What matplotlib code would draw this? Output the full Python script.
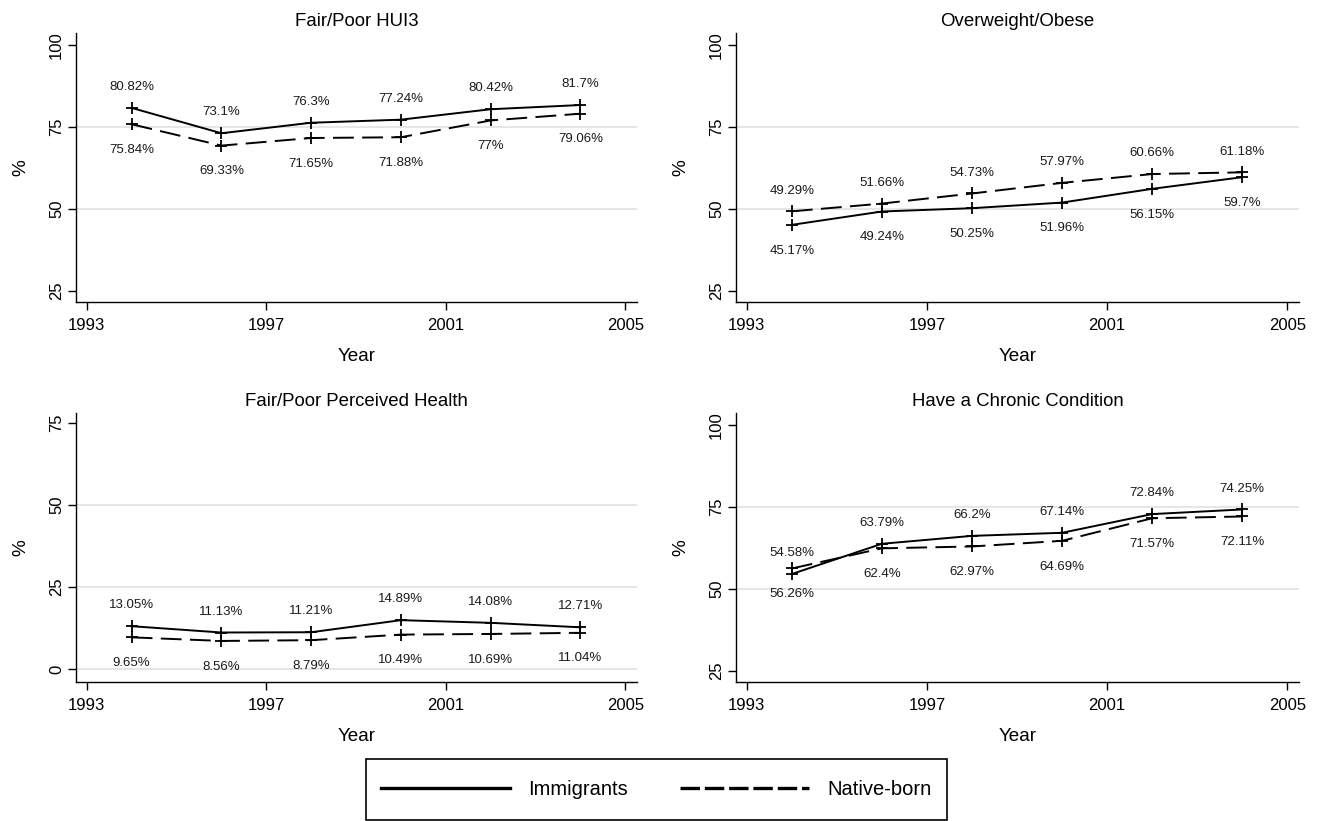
import matplotlib
matplotlib.use("Agg")
import matplotlib.pyplot as plt
from matplotlib.lines import Line2D
from matplotlib.patches import Rectangle

plt.rcParams['font.family'] = ['Liberation Sans', 'DejaVu Sans']
plt.rcParams['lines.scale_dashes'] = False

years = [1994, 1996, 1998, 2000, 2002, 2004]
xticks = [1993, 1997, 2001, 2005]

titles = ["Fair/Poor HUI3", "Overweight/Obese",
          "Fair/Poor Perceived Health", "Have a Chronic Condition"]

hui3_imm = [80.82, 73.1, 76.3, 77.24, 80.42, 81.7]
hui3_nat = [75.84, 69.33, 71.65, 71.88, 77, 79.06]
ow_imm = [45.17, 49.24, 50.25, 51.96, 56.15, 59.7]
ow_nat = [49.29, 51.66, 54.73, 57.97, 60.66, 61.18]
ph_imm = [13.05, 11.13, 11.21, 14.89, 14.08, 12.71]
ph_nat = [9.65, 8.56, 8.79, 10.49, 10.69, 11.04]
cc_imm = [54.58, 63.79, 66.2, 67.14, 72.84, 74.25]
cc_nat = [56.26, 62.4, 62.97, 64.69, 71.57, 72.11]

imm_series = [hui3_imm, ow_imm, ph_imm, cc_imm]
nat_series = [hui3_nat, ow_nat, ph_nat, cc_nat]
# which series gets labels above the points
imm_label_above = [True, False, True, True]

yticks_list = [[25, 50, 75, 100], [25, 50, 75, 100], [0, 25, 50, 75], [25, 50, 75, 100]]
grid_list = [[50, 75], [50, 75], [0, 25, 50], [50, 75]]
ylims = [(21.65, 103.66), (21.65, 103.66), (-3.96, 78.05), (21.65, 103.66)]

W, H = 1318, 821
fig = plt.figure(figsize=(W / 100, H / 100), dpi=100)

# axes boxes in pixels: left, top, right, bottom
boxes = [(76, 33, 637, 302), (736, 33, 1299, 302),
         (76, 413, 637, 682), (736, 413, 1299, 682)]

DASH = (0, (15, 6))
txtcol = '#1a1a1a'

for i, (l, t, r, b) in enumerate(boxes):
    ax = fig.add_axes([l / W, 1 - b / H, (r - l) / W, (b - t) / H])
    for g in grid_list[i]:
        ax.axhline(g, color='#e4e4e4', lw=1.3, zorder=0)
    ax.plot(years, imm_series[i], color='black', lw=1.4, marker='+',
            markersize=9, markeredgewidth=1.3, zorder=3)
    ax.plot(years, nat_series[i], color='black', lw=1.4, linestyle=DASH,
            marker='+', markersize=9, markeredgewidth=1.3, zorder=3)
    for series, above in ((imm_series[i], imm_label_above[i]),
                          (nat_series[i], not imm_label_above[i])):
        for x, v in zip(years, series):
            ax.annotate(f"{v:g}%", (x, v), xytext=(0, 15 if above else -18.5),
                        textcoords='offset points', ha='center', va='center',
                        fontsize=9.5, color=txtcol)
    ax.set_xlim(1992.76, 2005.26)
    ax.set_ylim(*ylims[i])
    ax.set_xticks(xticks)
    ax.set_yticks(yticks_list[i])
    ax.tick_params(axis='x', length=5.5, width=1, pad=6, labelsize=12, colors='black')
    ax.tick_params(axis='y', length=5.5, width=1, pad=3, labelsize=12, colors='black')
    for lab in ax.get_yticklabels():
        lab.set_rotation(90)
        lab.set_va('center')
    for s in ('top', 'right'):
        ax.spines[s].set_visible(False)
    for s in ('left', 'bottom'):
        ax.spines[s].set_linewidth(1.0)
    ax.set_title(titles[i], fontsize=13.4, pad=5)
    ax.set_xlabel("Year", fontsize=13.6, labelpad=11)
    ax.set_ylabel("%", fontsize=13.6, labelpad=14)

# legend box
lx0, lx1, ly0, ly1 = 366, 947, 759, 820
fig.patches.append(Rectangle((lx0 / W, 1 - ly1 / H), (lx1 - lx0) / W, (ly1 - ly0) / H,
                             transform=fig.transFigure, fill=False,
                             edgecolor='black', lw=1.2))
handles = [Line2D([], [], color='black', lw=2.4),
           Line2D([], [], color='black', lw=2.4, linestyle=(0, (14, 3.5)))]
fig.legend(handles, ["Immigrants", "Native-born"], ncol=2, frameon=False,
           loc='center', bbox_to_anchor=(lx0 / W, 1 - ly1 / H, (lx1 - lx0) / W, (ly1 - ly0) / H),
           fontsize=14.5, handlelength=6.4, handletextpad=0.9, columnspacing=2.6,
           borderpad=0.3)

fig.savefig("out.png", dpi=100)
